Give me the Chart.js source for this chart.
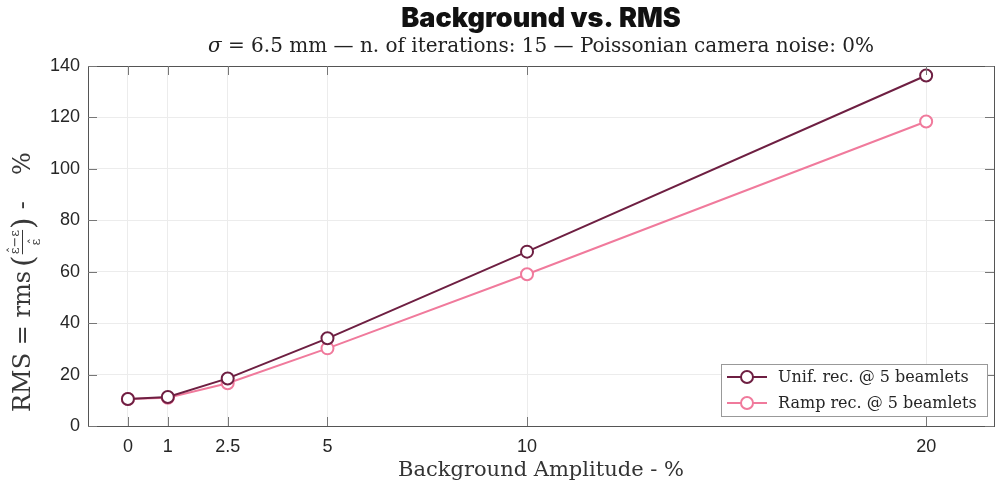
<!DOCTYPE html>
<html><head><meta charset="utf-8">
<script src="https://cdn.jsdelivr.net/npm/chart.js@4"></script>
<style>html,body{margin:0;padding:0;background:#fff;}#wrap{width:1002px;height:486px;}</style>
</head><body><div id="wrap"><canvas id="c" width="1002" height="486"></canvas></div>
<script>
const categories = [0, 1, 2.5, 5, 10, 20];
const tickLabels = ["0", "1", "2.5", "5", "10", "20"];
const unifValues = [10.5, 11.3, 18.5, 34.1, 67.8, 136.3];
const rampValues = [10.5, 11.0, 16.6, 30.2, 59.0, 118.4];
const seriesNames = ["Unif. rec. @ 5 beamlets", "Ramp rec. @ 5 beamlets"];
const titleText = "Background vs. RMS";
const subtitleText = " = 6.5 mm \u2014 n. of iterations: 15 \u2014 Poissonian camera noise: 0%";
const xTitleText = "Background Amplitude - %";

const colUnif = "#6e1f42";
const colRamp = "#f07a9c";
const serif = "'DejaVu Serif', 'Liberation Serif', serif";

function drawYLabel(ctx, x, y) {
  ctx.save();
  ctx.translate(x, y);
  ctx.rotate(-Math.PI / 2);
  ctx.fillStyle = '#383838';
  ctx.strokeStyle = '#383838';
  ctx.textAlign = 'left';
  ctx.textBaseline = 'alphabetic';
  let cx = 0;
  ctx.font = "24px " + serif;
  ctx.fillText("RMS = rms", cx, 0);
  cx += ctx.measureText("RMS = rms").width + 4;
  ctx.font = "30px " + serif;
  ctx.fillText("(", cx, 3);
  cx += ctx.measureText("(").width + 1;
  ctx.font = "13px " + serif;
  const num = "\u03B5\u2212\u03B5";
  const wn = ctx.measureText(num).width;
  const we = ctx.measureText("\u03B5").width;
  ctx.fillText(num, cx, -11);
  ctx.fillText("\u02C6", cx + 1, -13);
  ctx.fillText("\u03B5", cx + (wn - we) / 2, 10);
  ctx.fillText("\u02C6", cx + (wn - we) / 2 + 1, 8);
  ctx.lineWidth = 1;
  ctx.beginPath(); ctx.moveTo(cx, -7.5); ctx.lineTo(cx + wn, -7.5); ctx.stroke();
  cx += wn + 1;
  ctx.font = "30px " + serif;
  ctx.fillText(")", cx, 3);
  cx += ctx.measureText(")").width + 8;
  ctx.font = "24px " + serif;
  ctx.fillText("-", cx, 0);
  cx += ctx.measureText("-").width + 26;
  ctx.fillText("%", cx, 0);
  ctx.restore();
}

const overlay = {
  id: 'overlay',
  afterDraw(chart) {
    const ctx = chart.ctx, a = chart.chartArea;
    const xs = chart.scales.x, ys = chart.scales.y;
    ctx.save();
    ctx.strokeStyle = '#555';
    ctx.lineWidth = 1;
    ctx.strokeRect(Math.round(a.left) + 0.5, Math.round(a.top) + 0.5, Math.round(a.right - a.left), Math.round(a.bottom - a.top));
    ctx.strokeStyle = '#777';
    xs.ticks.forEach(t => {
      const px = Math.round(xs.getPixelForValue(t.value)) + 0.5;
      ctx.beginPath(); ctx.moveTo(px, a.bottom); ctx.lineTo(px, a.bottom - 9); ctx.stroke();
      ctx.beginPath(); ctx.moveTo(px, a.top); ctx.lineTo(px, a.top + 9); ctx.stroke();
    });
    ys.ticks.forEach(t => {
      const py = Math.round(ys.getPixelForValue(t.value)) + 0.5;
      ctx.beginPath(); ctx.moveTo(a.left, py); ctx.lineTo(a.left + 9, py); ctx.stroke();
      ctx.beginPath(); ctx.moveTo(a.right, py); ctx.lineTo(a.right - 9, py); ctx.stroke();
    });
    const cx = (a.left + a.right) / 2;
    ctx.fillStyle = '#111';
    ctx.textAlign = 'center';
    ctx.textBaseline = 'middle';
    ctx.font = "900 27px Inter, 'Liberation Sans', sans-serif";
    ctx.fillText(titleText, cx, 19);
    ctx.font = "20px " + serif;
    const w1 = ctx.measureText(subtitleText).width;
    ctx.font = "italic 20px " + serif;
    const ws = ctx.measureText("\u03C3").width;
    const x0 = cx - (w1 + ws) / 2;
    ctx.textAlign = 'left';
    ctx.fillStyle = '#222';
    ctx.fillText("\u03C3", x0, 47);
    ctx.font = "20px " + serif;
    ctx.fillText(subtitleText, x0 + ws, 47);
    drawYLabel(ctx, 30, 412);
    const lx = 721, ly = 364, lw = 266, lh = 52;
    ctx.fillStyle = '#fff';
    ctx.fillRect(lx, ly, lw, lh);
    ctx.strokeStyle = '#999';
    ctx.lineWidth = 1;
    ctx.strokeRect(lx + 0.5, ly + 0.5, lw, lh);
    chart.data.datasets.forEach((ds, i) => {
      const yy = ly + 13 + i * 26;
      ctx.strokeStyle = ds.borderColor;
      ctx.lineWidth = 2;
      ctx.beginPath(); ctx.moveTo(lx + 6, yy); ctx.lineTo(lx + 46, yy); ctx.stroke();
      ctx.beginPath(); ctx.arc(lx + 26, yy, 6, 0, Math.PI * 2);
      ctx.fillStyle = '#fff'; ctx.fill(); ctx.stroke();
      ctx.fillStyle = '#262626';
      ctx.font = "16px " + serif;
      ctx.textAlign = 'left';
      ctx.textBaseline = 'middle';
      ctx.fillText(ds.label, lx + 57, yy + 1);
    });
    ctx.restore();
  }
};

new Chart(document.getElementById('c'), {
  type: 'line',
  data: {
    datasets: [
      { label: seriesNames[0], data: categories.map((x, i) => ({x, y: unifValues[i]})),
        borderColor: colUnif, backgroundColor: '#fff', borderWidth: 2,
        pointRadius: 6, pointBorderWidth: 2, pointBackgroundColor: '#fff', pointBorderColor: colUnif },
      { label: seriesNames[1], data: categories.map((x, i) => ({x, y: rampValues[i]})),
        borderColor: colRamp, backgroundColor: '#fff', borderWidth: 2,
        pointRadius: 6, pointBorderWidth: 2, pointBackgroundColor: '#fff', pointBorderColor: colRamp }
    ]
  },
  options: {
    responsive: false,
    animation: false,
    layout: { padding: { top: 66, right: 5, left: 0, bottom: 0 } },
    plugins: { legend: { display: false }, title: { display: false }, tooltip: { enabled: false } },
    scales: {
      x: {
        type: 'linear', min: -1, max: 21.7,
        afterBuildTicks(s) { s.ticks = categories.map(v => ({ value: v })); },
        afterFit(s) { s.height = 60; },
        ticks: { callback: (v) => tickLabels[categories.indexOf(v)], color: '#262626',
          font: { family: "'Liberation Sans', sans-serif", size: 18 }, padding: 10, maxRotation: 0, autoSkip: false },
        grid: { color: '#ececec', drawTicks: false },
        border: { display: false },
        title: { display: true, text: xTitleText, color: '#333',
          font: { family: serif, size: 21 }, padding: { top: 0, bottom: 3 } }
      },
      y: {
        min: 0, max: 140,
        ticks: { stepSize: 20, color: '#262626', font: { family: "'Liberation Sans', sans-serif", size: 18 }, padding: 8 },
        afterFit(s) { s.width = 88; },
        grid: { color: '#ececec', drawTicks: false },
        border: { display: false },
        title: { display: false }
      }
    }
  },
  plugins: [overlay]
});
</script></body></html>
